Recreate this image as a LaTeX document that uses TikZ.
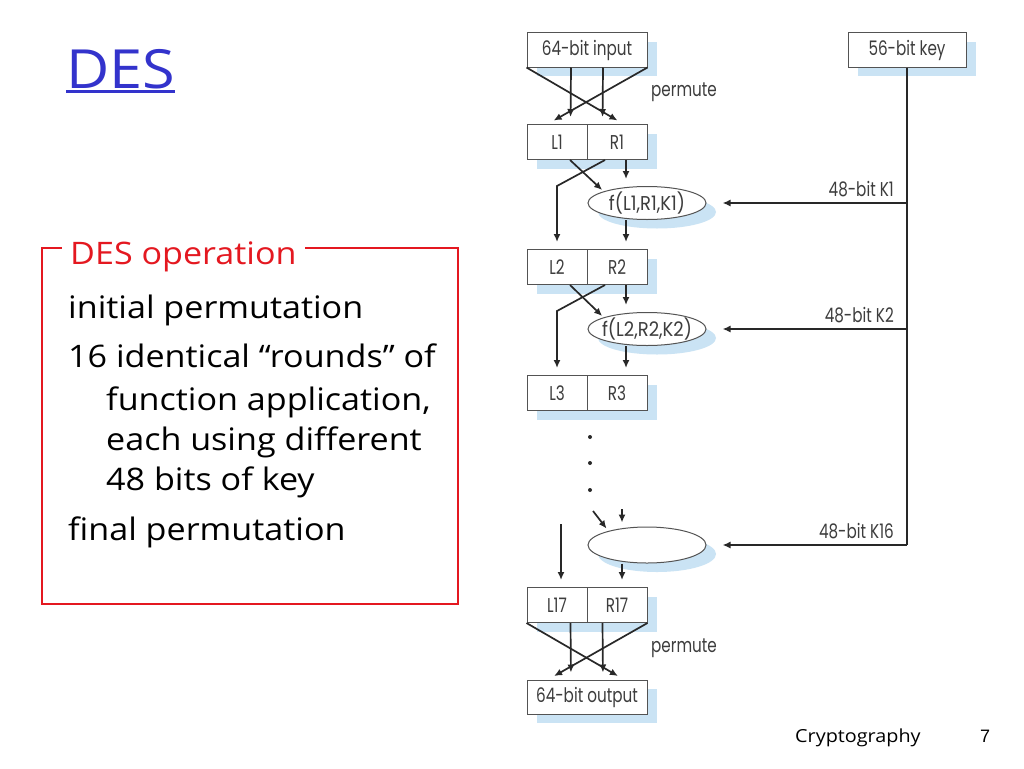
\documentclass[tikz,border=0pt]{standalone}
\usepackage{fontspec}
\setmainfont{Open Sans}[FakeStretch=1.1]
\newfontfamily\diagfont{Poppins}[FakeStretch=0.76]
\newfontfamily\funcfont{Poppins}[FakeStretch=0.9]
\newfontfamily\numfont{Liberation Sans}
\usetikzlibrary{arrows.meta,shadows,shapes.geometric}

\definecolor{titleblue}{RGB}{51,51,204}
\definecolor{framered}{RGB}{228,24,32}
\definecolor{shadowblue}{RGB}{202,227,244}
\definecolor{linegray}{RGB}{40,40,40}

\tikzset{
  boxshadow/.style={drop shadow={shadow xshift=10pt, shadow yshift=-9pt, fill=shadowblue, opacity=1}},
  half/.style={draw=linegray!80, fill=white, line width=1pt, minimum width=60pt, minimum height=35pt,
    inner sep=0pt, text=linegray!90, font=\diagfont\fontsize{20}{20}\selectfont, boxshadow},
  wide/.style={half, minimum width=120pt, minimum height=34pt},
  func/.style={ellipse, draw=linegray!80, fill=white, line width=1pt, minimum width=118pt,
    minimum height=33pt, inner sep=0pt, text=linegray!90, font=\funcfont\fontsize{20}{20}\selectfont, boxshadow},
  lbl/.style={text=linegray!90, font=\diagfont\fontsize{20}{20}\selectfont, inner sep=0pt},
  arr/.style={draw=linegray, line width=1.7pt, -{Latex[length=8pt,width=7pt]}},
  keyline/.style={draw=linegray, line width=1.7pt},
  body/.style={anchor=base west, inner sep=0pt, font=\fontsize{31}{31}\selectfont},
}

\begin{document}
\begin{tikzpicture}[x=1pt, y=-1pt]
  \useasboundingbox[fill=white] (0,0) rectangle (1024,768);

  % Title
  \node[anchor=base west, inner sep=0pt, text=titleblue, font=\fontsize{54}{54}\selectfont] (title) at (66,88) {DES};
  \draw[titleblue, line width=3pt] ([yshift=-3pt]title.base west) -- ([yshift=-3pt]title.base east);

  % DES operation frame
  \draw[framered, line width=1.3pt] (42,248) rectangle (458,604);
  \node[anchor=base west, fill=white, inner xsep=8pt, inner ysep=4pt, text=framered,
    font=\fontsize{31}{31}\selectfont] (optitle) at (62,264) {DES operation};
  \node[body] (b1) at (68,318) {initial permutation};
  \node[body] (b2) at (68,367) {16 identical “rounds” of};
  \node[body] (b3) at (106,410) {function application,};
  \node[body] (b4) at (106,450) {each using different};
  \node[body] (b5) at (106,490) {48 bits of key};
  \node[body] (b6) at (68,540) {final permutation};

  % Footer
  \node[anchor=base west, inner sep=0pt, font=\fontsize{18}{18}\selectfont] (foot) at (795,742) {Cryptography};
  \node[anchor=base west, inner sep=0pt, font=\numfont\fontsize{18}{18}\selectfont] (page) at (980,742) {7};

  % Boxes
  \node[wide] (in) at (587,50) {64-bit input};
  \node[wide, minimum width=118pt] (key) at (907,50) {56-bit key};
  \node[half] (l1) at (557,142) {L1};
  \node[half] (r1) at (617,142) {R1};
  \node[func] (f1) at (647,203) {\makebox[0pt]{f(L1,R1,K1)}};
  \node[half] (l2) at (557,267) {L2};
  \node[half] (r2) at (617,267) {R2};
  \node[func] (f2) at (647,329) {\makebox[0pt]{f(L2,R2,K2)}};
  \node[half] (l3) at (557,393) {L3};
  \node[half] (r3) at (617,393) {R3};
  \node[func, minimum height=36pt] (f16) at (647,545) {};
  \node[half] (l17) at (557,605) {L17};
  \node[half] (r17) at (617,605) {R17};
  \node[wide] (out) at (587,697) {64-bit output};

  % Labels
  \node[lbl, anchor=west] (perm1) at (651,92) {permute};
  \node[lbl, anchor=west] (perm2) at (651,648) {permute};
  \coordinate (k1) at (907,203);
  \coordinate (k2) at (907,329);
  \coordinate (k16) at (907,545);
  \node[lbl, anchor=south east] (k1lbl) at ([xshift=-13pt, yshift=6pt]k1) {48-bit K1};
  \node[lbl, anchor=south east] (k2lbl) at ([xshift=-13pt, yshift=6pt]k2) {48-bit K2};
  \node[lbl, anchor=south east] (k16lbl) at ([xshift=-13pt, yshift=6pt]k16) {48-bit K16};

  % Dots
  \fill[linegray] (590,437) circle (2);
  \fill[linegray] (590,463) circle (2);
  \fill[linegray] (590,490) circle (2);

  % Initial permutation
  \draw[arr, shorten >=7pt] (in.south west) -- ([xshift=37pt]r1.north west);
  \draw[arr, shorten >=7pt] (in.south east) -- ([xshift=-39pt]r1.north west);
  \draw[arr, shorten >=7pt] ([xshift=-16pt]in.south) -- ([xshift=-16pt]r1.north west);
  \draw[arr, shorten >=7pt] ([xshift=16pt]in.south) -- ([xshift=16pt]r1.north west);

  % Round 1
  \draw[arr, shorten >=2pt] ([xshift=13pt]l1.south) -- (f1.165);
  \draw[arr, shorten >=7pt] ([xshift=9pt]r1.south) -- ([xshift=9pt]r1.south |- f1.north);
  \draw[arr, shorten >=7pt] ([xshift=-12pt]r1.south) -- ++(-48,26) -- (l2.north);
  \draw[arr, shorten >=7pt] ([xshift=9pt]r2.north |- f1.south) -- ([xshift=9pt]r2.north);

  % Round 2
  \draw[arr, shorten >=2pt] ([xshift=13pt]l2.south) -- (f2.165);
  \draw[arr, shorten >=7pt] ([xshift=9pt]r2.south) -- ([xshift=9pt]r2.south |- f2.north);
  \draw[arr, shorten >=7pt] ([xshift=-12pt]r2.south) -- ++(-48,26) -- (l3.north);
  \draw[arr, shorten >=7pt] ([xshift=9pt]r3.north |- f2.south) -- ([xshift=9pt]r3.north);

  % Round 16
  \coordinate (d1) at (593,511);
  \coordinate (d2) at (622,509);
  \coordinate (d3) at (561,524);
  \draw[arr, shorten >=3pt] (d1) -- (f16.160);
  \draw[arr, shorten >=4pt] (d2) -- (d2 |- f16.north);
  \draw[arr, shorten >=7pt] (d3) -- (d3 |- l17.north);
  \draw[arr, shorten >=7pt] ([xshift=5pt]r17.north |- f16.south) -- ([xshift=5pt]r17.north);

  % Final permutation
  \draw[arr, shorten >=7pt] (l17.south west) -- ([xshift=37pt]out.north);
  \draw[arr, shorten >=7pt] (r17.south east) -- ([xshift=-39pt]out.north);
  \draw[arr, shorten >=7pt] ([xshift=-16pt]r17.south west) -- ([xshift=-16pt]out.north);
  \draw[arr, shorten >=7pt] ([xshift=16pt]r17.south west) -- ([xshift=16pt]out.north);

  % Key schedule
  \draw[keyline] (key.south) -- (k16);
  \draw[arr, shorten >=16pt] (k1) -- (k1 -| f1.east);
  \draw[arr, shorten >=16pt] (k2) -- (k2 -| f2.east);
  \draw[arr, shorten >=16pt] (k16) -- (k16 -| f16.east);
\end{tikzpicture}
\end{document}
